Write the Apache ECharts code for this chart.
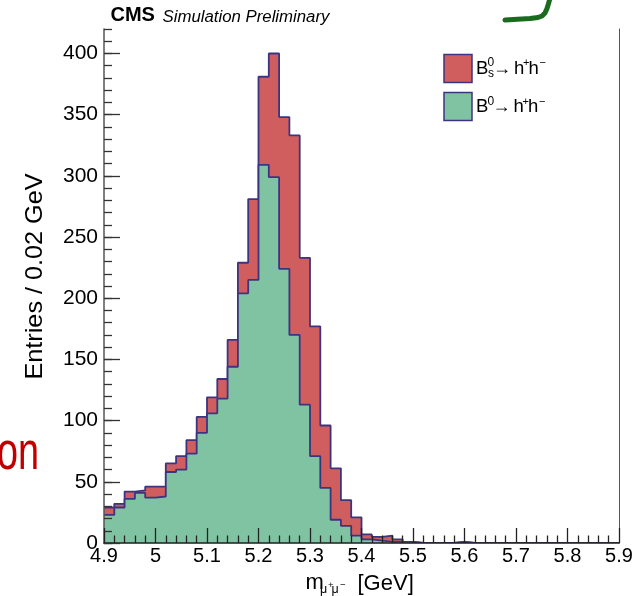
<!DOCTYPE html>
<html><head><meta charset="utf-8">
<script src="https://cdn.jsdelivr.net/npm/echarts@6/dist/echarts.min.js"></script>
<style>html,body{margin:0;padding:0;background:#fff}#c{width:643px;height:596px}</style>
</head><body><div id="c"></div>
<script>
// ---- data ----
const binStart = 4.9;      // GeV, lower edge of first bin
const binWidth = 0.02;     // GeV
// B0 -> h+h-  entries per bin (green, bottom of the stack)
const b0Entries = [23, 29, 36, 41, 37, 38, 58, 60, 73, 90,
                   106, 118, 144, 204, 215, 309, 299, 224, 170, 113,
                   71, 45, 19, 14, 6, 3, 2, 1, 1, 1,
                   0, 0, 0, 0, 1, 0, 0, 0, 0, 0,
                   0, 0, 0, 0, 0, 0, 0, 0, 0, 0];
// Bs0 -> h+h-  entries per bin (red, stacked on top)
const bsEntries = [6, 3, 6, 2, 9, 8, 7, 11, 11, 13,
                   13, 16, 22, 25, 66, 72, 101, 124, 163, 120,
                   106, 51, 42, 21, 15, 4, 3, 5, 2, 0,
                   0, 0, 0, 0, 0, 0, 0, 0, 0, 0,
                   0, 0, 0, 0, 0, 0, 0, 0, 0, 0];
const xTickLabels = ['4.9','5','5.1','5.2','5.3','5.4','5.5','5.6','5.7','5.8','5.9'];
const yTickLabels = ['0','50','100','150','200','250','300','350','400'];
const seriesNames = ['B0s', 'B0'];

// ---- build stacked step data ----
const nBins = b0Entries.length;
const edges = [];
for (let i = 0; i <= nBins; i++) edges.push(+(binStart + i * binWidth).toFixed(2));
const greenData = b0Entries.map((v, i) => [edges[i], v]);
greenData.push([edges[nBins], b0Entries[nBins - 1]]);
const stackTotal = b0Entries.map((v, i) => v + bsEntries[i]);
const redData = stackTotal.map((v, i) => [edges[i], v]);
redData.push([edges[nBins], stackTotal[nBins - 1]]);

const RED = '#d15e5f', GREEN = '#80c3a3', OUTLINE = '#3d3480';
const FONT = '"Liberation Sans", Arial, Helvetica, sans-serif';

function T(text, x, baseline, size, styleExtra) {
  return {
    type: 'text', x: x, y: baseline - 0.3465 * size, silent: true,
    style: Object.assign({ text: text, fontSize: size, fontFamily: FONT, fill: '#000',
      align: 'left', verticalAlign: 'middle' }, styleExtra || {})
  };
}

const graphics = [
  T('CMS', 110.5, 22.7, 20, { fontWeight: 'bold' }),
  T('Simulation Preliminary', 162.5, 22.7, 16.8, { fontStyle: 'italic' }),
  { type: 'rect', shape: { x: 444, y: 54.5, width: 28, height: 28 }, style: { fill: RED, stroke: OUTLINE, lineWidth: 1.5 }, silent: true },
  { type: 'rect', shape: { x: 444, y: 92.5, width: 28, height: 28 }, style: { fill: GREEN, stroke: OUTLINE, lineWidth: 1.5 }, silent: true },
  T('B', 476, 75, 18.5), T('0', 487.5, 67, 12), T('s', 488, 78, 12),
  T('\u2192', 493, 75, 18), T('h', 514, 75, 18.5), T('+', 523, 67, 11),
  T('h', 528.5, 75, 18.5), T('\u2212', 539.5, 67, 11),
  T('B', 476, 113.5, 18.5), T('0', 487.5, 105.5, 12),
  T('\u2192', 492.5, 113.5, 18), T('h', 513.5, 113.5, 18.5), T('+', 522.5, 105.5, 11),
  T('h', 528, 113.5, 18.5), T('\u2212', 539, 105.5, 11),
  T('m', 305.5, 590.5, 22), T('\u03bc', 320, 594, 12.5), T('+', 328, 589, 9.5),
  T('\u03bc', 331.5, 594, 12.5), T('\u2212', 340, 589, 9.5), T('[GeV]', 357.5, 591.5, 22),
  { type: 'text', x: 35.5, y: 276.5, rotation: Math.PI / 2, scaleX: 1.05, silent: true,
    style: { text: 'Entries / 0.02 GeV', fontSize: 24, fontFamily: FONT, fill: '#000', align: 'center', verticalAlign: 'middle' } },
  { type: 'text', x: 39, y: 473 - 0.3465 * 54, scaleX: 0.7, silent: true,
    style: { text: 'on', fontSize: 54, fontFamily: FONT, fill: '#c00000', align: 'right', verticalAlign: 'middle' } },
  { type: 'polyline', silent: true,
    shape: { points: [[505, 20], [530, 18.5], [538, 17.5], [542, 16], [545, 13], [547, 8.5], [549, 2], [550, -2]] },
    style: { fill: null, stroke: '#1b6b1f', lineWidth: 5, lineCap: 'round', lineJoin: 'round' } }
];

const chart = echarts.init(document.getElementById('c'), null, { renderer: 'canvas' });
chart.setOption({
  animation: false,
  backgroundColor: '#fff',
  grid: { left: 104, top: 29, right: 24, bottom: 53 },
  xAxis: [{
    type: 'value', min: 4.9, max: 5.9, interval: 0.1, position: 'bottom', zlevel: 1,
    axisLine: { show: true, lineStyle: { color: '#222', width: 1.5 } },
    axisTick: { show: true, inside: true, length: 15, lineStyle: { color: '#222', width: 1.3 } },
    minorTick: { show: true, splitNumber: 5, length: 7.5, lineStyle: { color: '#222', width: 1.3 } },
    splitLine: { show: false },
    axisLabel: { color: '#000', fontSize: 20, fontFamily: FONT, margin: 3,
      formatter: function (v) { const k = Math.round((v - 4.9) * 10); return xTickLabels[k] || ''; } }
  }, {
    type: 'value', min: 4.9, max: 5.9, interval: 0.1, position: 'top', zlevel: 1,
    axisLine: { show: true, lineStyle: { color: '#555', width: 1 } },
    axisTick: { show: false }, axisLabel: { show: false }, splitLine: { show: false }
  }],
  yAxis: [{
    type: 'value', min: 0, max: 420, interval: 50, position: 'left', zlevel: 1,
    axisLine: { show: true, lineStyle: { color: '#555', width: 1.5 } },
    axisTick: { show: true, inside: true, length: 16, lineStyle: { color: '#333', width: 1.3 } },
    splitLine: { show: false },
    axisLabel: { color: '#000', fontSize: 21, fontFamily: FONT, margin: 6, showMaxLabel: false,
      formatter: function (v) { const k = Math.round(v / 50); return (v % 50 === 0 && yTickLabels[k]) || ''; } }
  }, {
    type: 'value', min: 0, max: 420, interval: 10, position: 'left', offset: 0, zlevel: 1,
    axisLine: { show: false },
    axisTick: { show: true, inside: true, length: 8, lineStyle: { color: '#333', width: 1.3 } },
    splitLine: { show: false },
    axisLabel: { show: false }
  }, {
    type: 'value', min: 0, max: 420, position: 'right', zlevel: 1,
    axisLine: { show: true, lineStyle: { color: '#555', width: 1 } },
    axisTick: { show: false }, axisLabel: { show: false }, splitLine: { show: false }
  }],
  graphic: graphics,
  series: [
    { name: seriesNames[0], type: 'line', step: 'end', data: redData, symbol: 'none', z: 2, silent: true,
      itemStyle: { color: RED }, lineStyle: { color: OUTLINE, width: 1.8 }, areaStyle: { color: RED, opacity: 1 } },
    { name: seriesNames[1], type: 'line', step: 'end', data: greenData, symbol: 'none', z: 3, silent: true,
      itemStyle: { color: GREEN }, lineStyle: { color: OUTLINE, width: 1.8 }, areaStyle: { color: GREEN, opacity: 1 } }
  ]
});
</script>
</body></html>
